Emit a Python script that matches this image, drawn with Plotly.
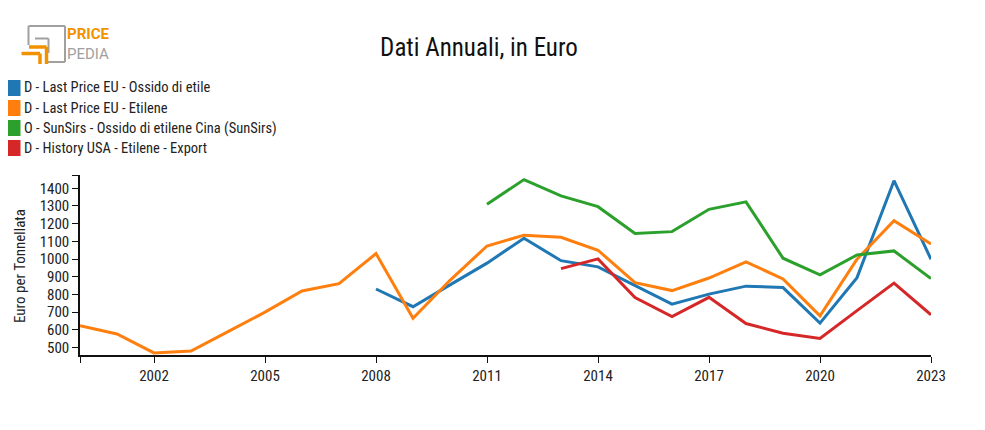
import plotly.graph_objects as go

years = list(range(2000, 2024))

# values per year (None = missing)
ossido_eu = [None]*8 + [831, 731, 854, 977, 1118, 991, 956, 852, 745, 802, 847, 839, 638, 895, 1443, 999]
etilene_eu = [624, 577, 470, 480, 590, 700, 820, 861, 1031, 666, 880, 1074, 1135, 1123, 1050, 867,
              822, 893, 984, 888, 679, 999, 1217, 1085]
ossido_cina = [None]*11 + [1310, 1449, 1357, 1296, 1144, 1155, 1281, 1323, 1005, 911, 1023, 1046, 890]
etilene_usa = [None]*13 + [946, 1001, 782, 675, 784, 636, 581, 551, 709, 864, 685]

series_names = [
    "D - Last Price EU - Ossido di etile",
    "D - Last Price EU - Etilene",
    "O - SunSirs - Ossido di etilene Cina (SunSirs)",
    "D - History USA - Etilene - Export",
]
series_values = [ossido_eu, etilene_eu, ossido_cina, etilene_usa]
colors = ["#1f77b4", "#ff7f0e", "#2ca02c", "#d62728"]

x_tickvals = [2000, 2002, 2005, 2008, 2011, 2014, 2017, 2020, 2023]
x_ticktext = ["", "2002", "2005", "2008", "2011", "2014", "2017", "2020", "2023"]
y_tickvals = [500, 600, 700, 800, 900, 1000, 1100, 1200, 1300, 1400, 1475]
y_ticktext = ["500", "600", "700", "800", "900", "1000", "1100", "1200", "1300", "1400", ""]
y_title = "Euro per Tonnellata"

FONT = "Roboto Condensed, Liberation Sans Narrow, Roboto, sans-serif"
OFF = 8  # page body margin
W, H = 985 - OFF, 430 - OFF
L, R, T, B = 80 - OFF, 931 - OFF, 175 - OFF, 355 - OFF


def px(x):
    return (x - OFF - L) / (R - L)


def py(y):
    return (B - (y - OFF)) / (B - T)


fig = go.Figure()
for name, vals, c in zip(series_names, series_values, colors):
    fig.add_trace(go.Scatter(x=years, y=vals, mode="lines", name=name,
                             line=dict(color=c, width=3), connectgaps=False,
                             showlegend=False))

shapes = []
annotations = []

# manual legend
for i, (name, c) in enumerate(zip(series_names, colors)):
    cy = 88 + 20 * i
    shapes.append(dict(type="rect", xref="paper", yref="paper",
                       x0=px(4), x1=px(20.5), y0=py(cy - 8), y1=py(cy + 8),
                       fillcolor=c, line=dict(width=0)))
    annotations.append(dict(text=name, xref="paper", yref="paper", x=px(22), y=py(cy),
                            xanchor="left", yanchor="middle", showarrow=False,
                            font=dict(family=FONT, size=14.5, color="#222")))

# y axis title
annotations.append(dict(text=y_title, xref="paper", yref="paper", x=px(9), y=py(266),
                        xanchor="left", yanchor="middle", textangle=-90, showarrow=False,
                        font=dict(family=FONT, size=15, color="#222")))

# logo
gray = "#a0a0a0"
orange = "#f39200"
for (x0, y0, x1, y1) in [(28.5, 26, 65, 26), (65, 26, 65, 62), (47, 62, 65, 62), (28.5, 26, 28.5, 45),
                         (35, 38.5, 48.5, 38.5), (48.5, 38.5, 48.5, 53)]:
    shapes.append(dict(type="line", xref="paper", yref="paper", x0=px(x0), x1=px(x1),
                       y0=py(y0), y1=py(y1), line=dict(color=gray, width=2)))
for (x0, y0, x1, y1) in [(21.5, 53.5, 40, 53.5), (40, 53.5, 40, 64), (29, 47, 46.5, 47), (46.5, 47, 46.5, 64)]:
    shapes.append(dict(type="line", xref="paper", yref="paper", x0=px(x0), x1=px(x1),
                       y0=py(y0), y1=py(y1), line=dict(color=orange, width=3.5)))
annotations.append(dict(text="<b>PRICE</b>", xref="paper", yref="paper", x=px(66), y=py(43.5),
                        xanchor="left", yanchor="bottom", showarrow=False, borderpad=0,
                        font=dict(family="Roboto, sans-serif", size=15, color=orange)))
annotations.append(dict(text="PEDIA", xref="paper", yref="paper", x=px(66), y=py(43.5),
                        xanchor="left", yanchor="top", showarrow=False, borderpad=0,
                        font=dict(family="Roboto, sans-serif", size=15, color=gray)))

fig.update_layout(
    width=W, height=H,
    margin=dict(l=L, r=W - R, t=T, b=H - B, autoexpand=False),
    paper_bgcolor="white", plot_bgcolor="white",
    font=dict(family=FONT, size=13, color="#222"),
    title=dict(text="Dati Annuali, in Euro", x=(479 - OFF) / W, xanchor="center",
               y=1 - (47 - OFF) / H, yanchor="middle",
               font=dict(family=FONT, size=25, color="#111")),
    shapes=shapes, annotations=annotations,
    xaxis=dict(range=[2000, 2023], tickvals=x_tickvals, ticktext=x_ticktext, automargin=False,
               showgrid=False, zeroline=False, showline=True, linecolor="#111", linewidth=1.5,
               ticks="outside", ticklen=6, tickcolor="#111", tickfont=dict(size=15)),
    yaxis=dict(range=[458, 1475], tickvals=y_tickvals, ticktext=y_ticktext, automargin=False,
               showgrid=False, zeroline=False, showline=True, linecolor="#111", linewidth=1.5,
               ticks="outside", ticklen=6, tickcolor="#111", tickfont=dict(size=15)),
)

fig.write_html("out.html")
